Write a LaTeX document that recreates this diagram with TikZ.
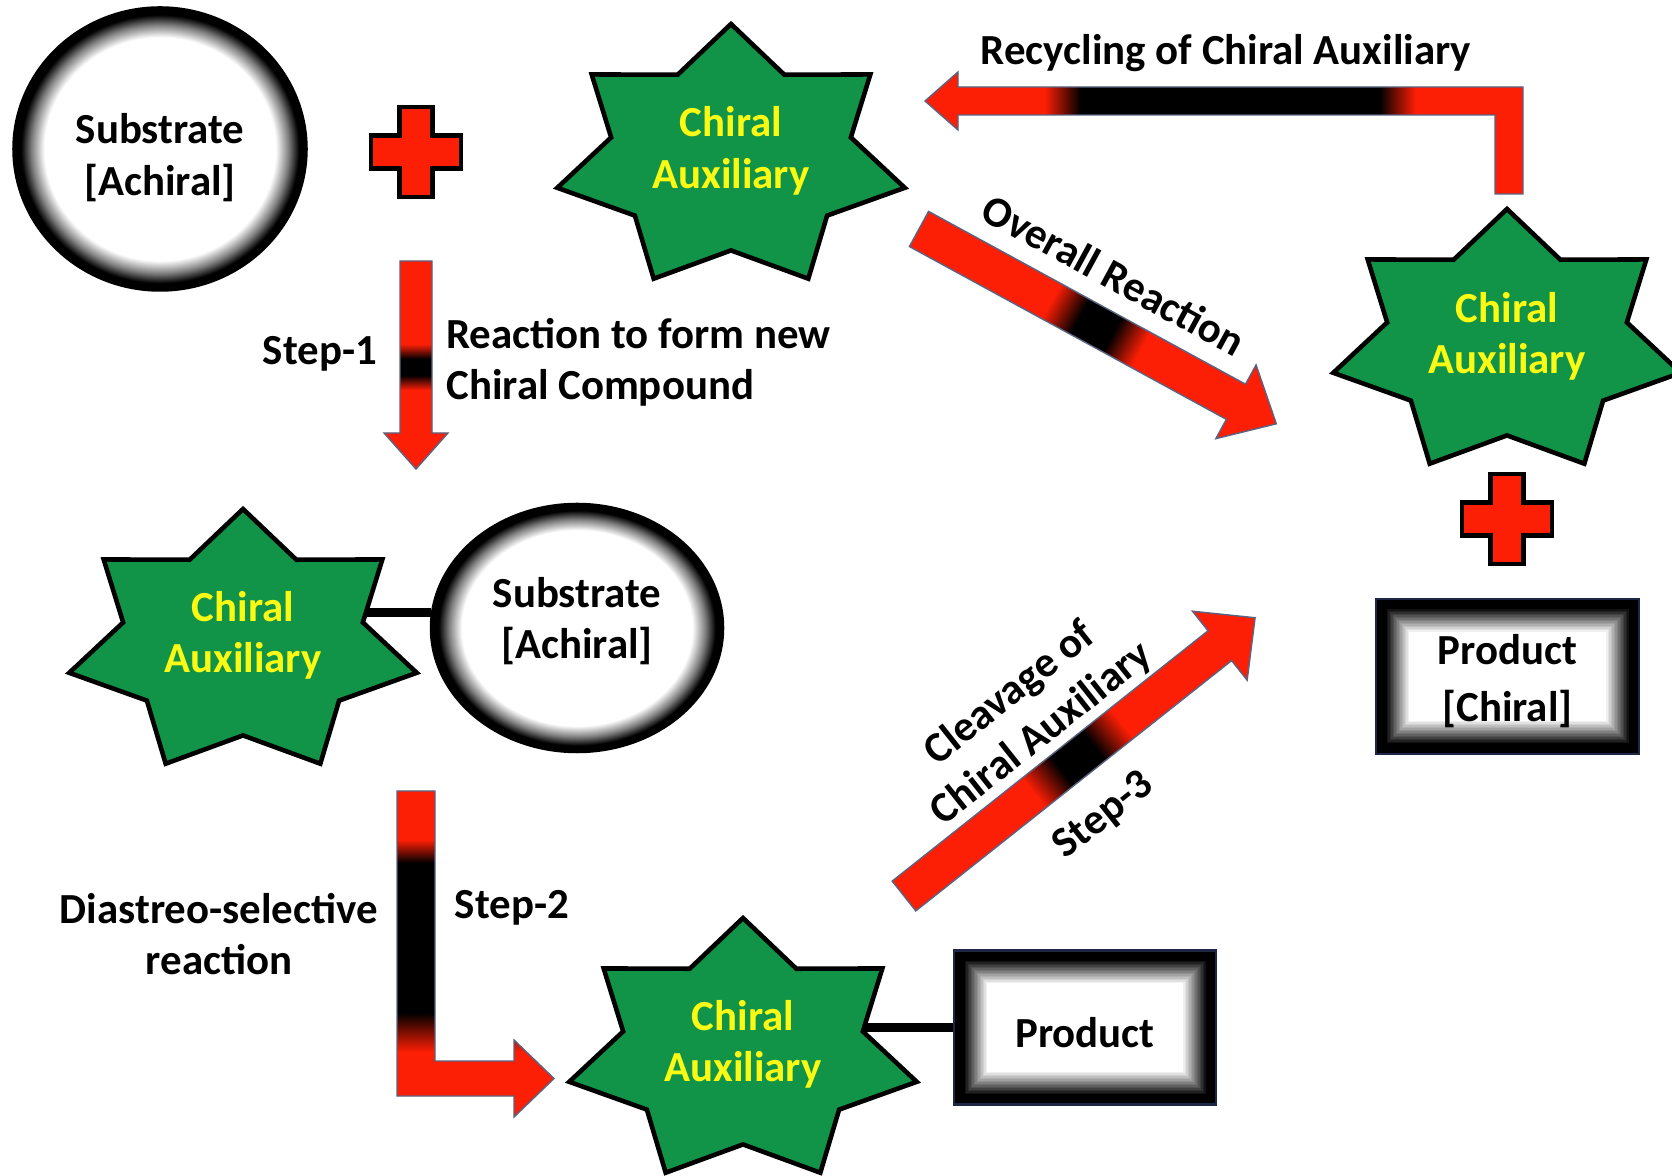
\documentclass[tikz,border=0pt]{standalone}
\usepackage{fontspec}
\setmainfont{Carlito}
\usetikzlibrary{shapes}

\definecolor{auxgreen}{RGB}{18,148,72}
\definecolor{auxyellow}{RGB}{250,250,20}
\definecolor{arrowred}{RGB}{252,30,5}
\definecolor{arrowedge}{RGB}{90,100,130}
\definecolor{boxedge}{RGB}{30,40,70}

\pgfdeclareradialshading{rimshade}{\pgfpoint{0bp}{0bp}}{color(0bp)=(white); color(19.8bp)=(white); color(22bp)=(black!50); color(23.8bp)=(black); color(50bp)=(black)}
\pgfdeclarehorizontalshading{midshade}{100bp}{color(0bp)=(arrowred); color(43.5bp)=(arrowred); color(47.5bp)=(black); color(52bp)=(black); color(56bp)=(arrowred); color(100bp)=(arrowred)}
\pgfdeclareverticalshading{stepshade}{100bp}{color(0bp)=(arrowred); color(44bp)=(arrowred); color(47.5bp)=(black); color(51.5bp)=(black); color(55bp)=(arrowred); color(100bp)=(arrowred)}
\pgfdeclareverticalshading{bendshade}{100bp}{color(0bp)=(arrowred); color(35bp)=(arrowred); color(41bp)=(black); color(64bp)=(black); color(67.5bp)=(arrowred); color(100bp)=(arrowred)}
\pgfdeclarehorizontalshading{recyshade}{100bp}{color(0bp)=(arrowred); color(35bp)=(arrowred); color(38bp)=(black); color(63bp)=(black); color(66bp)=(arrowred); color(100bp)=(arrowred)}

\begin{document}
\begin{tikzpicture}[font=\fontsize{12.2pt}{14.6pt}\selectfont\bfseries,
        auxstar/.style = {star, star points=7, star point ratio=1.45, minimum size=2.68cm, inner sep=0pt, fill=auxgreen, draw=black, line width=1.3pt, xscale=1.33, transform shape},
        auxtext/.style = {text=auxyellow, align=center},
        subcircle/.style = {ellipse, draw=black, line width=1pt, shade, shading=rimshade},
        prodbox/.style = {rectangle, draw=boxedge, line width=0.6pt, minimum width=2.62cm, minimum height=1.54cm,
            path picture={\foreach \k in {0,...,22} {
                \pgfmathtruncatemacro{\shadepct}{min(100,max(0,100-(\k-6)*6.25))}
                \fill[black!\shadepct!white] ([shift={(\k*0.015,\k*0.015)}]path picture bounding box.south west) rectangle ([shift={(-\k*0.015,-\k*0.015)}]path picture bounding box.north east);}}},
        link/.style = {line width=2.6pt},
        blockarrow/.style = {draw=arrowedge, line width=0.4pt},
        plussign/.style = {fill=arrowred, draw=black, line width=1.4pt}]
                \useasboundingbox (0, 0) rectangle (16.72, 11.75);
                \fill[white] (0, 0) rectangle (16.72, 11.75);

                \shadedraw[blockarrow, shading=recyshade] (9.25, 10.74) -- (9.58, 11.03) -- (9.58, 10.88) -- (15.23, 10.88) -- (15.23, 9.81) -- (14.95, 9.81) -- (14.95, 10.60) -- (9.58, 10.60) -- (9.58, 10.45) -- cycle;
                \shadedraw[blockarrow, shading=stepshade] (4.00, 9.14) -- (4.32, 9.14) -- (4.32, 7.42) -- (4.48, 7.42) -- (4.16, 7.06) -- (3.84, 7.42) -- (4.00, 7.42) -- cycle;
                \shadedraw[blockarrow, shading=bendshade] (3.97, 3.84) -- (4.35, 3.84) -- (4.35, 1.14) -- (5.14, 1.14) -- (5.14, 1.35) -- (5.54, 0.965) -- (5.14, 0.58) -- (5.14, 0.79) -- (3.97, 0.79) -- cycle;
                \begin{scope}[transform canvas={shift={(9.19, 9.46)}, rotate=-28.6}]
                \shadedraw[blockarrow, shading=midshade] (0, 0.20) -- (3.61, 0.20) -- (3.61, 0.42) -- (4.07, 0) -- (3.61, -0.42) -- (3.61, -0.20) -- (0, -0.20) -- cycle;
                \end{scope}
                \begin{scope}[transform canvas={shift={(9.04, 2.79)}, rotate=38.4}]
                \shadedraw[blockarrow, shading=midshade] (0, 0.19) -- (4.03, 0.19) -- (4.03, 0.44) -- (4.48, 0) -- (4.03, -0.44) -- (4.03, -0.19) -- (0, -0.19) -- cycle;
                \end{scope}

                \foreach \px/\py in {4.16/10.23, 15.07/6.56}
                    \draw[plussign] (\px, \py) ++(-0.165, -0.45) -- ++(0.33, 0) -- ++(0, 0.285) -- ++(0.285, 0) -- ++(0, 0.33) -- ++(-0.285, 0) -- ++(0, 0.285) -- ++(-0.33, 0) -- ++(0, -0.285) -- ++(-0.285, 0) -- ++(0, -0.33) -- ++(0.285, 0) -- cycle;

                \node[subcircle, minimum width=2.92cm, minimum height=2.82cm] at (1.60, 10.26) (c1) {};
                \node[align=center] at (1.60, 10.175) (c1txt) {Substrate\\{}[Achiral]};
                \node[auxstar] at (7.31, 10.17) (s1) {};
                \node[auxtext] at (7.31, 10.24) (t1) {Chiral\\Auxiliary};

                \coordinate (s2pos) at (2.43, 5.32);
                \node[subcircle, minimum width=2.91cm, minimum height=2.47cm] at (5.77, 5.47) (c2) {};
                \node[align=center] at (5.77, 5.54) (c2txt) {Substrate\\{}[Achiral]};
                \draw[link] (s2pos |- c2.174) -- (c2.174);
                \node[auxstar] at (s2pos) (s2) {};
                \node[auxtext] at (2.43, 5.40) (t2) {Chiral\\Auxiliary};

                \node[auxstar] at (15.07, 8.32) (s3) {};
                \node[auxtext] at (15.07, 8.39) (t3) {Chiral\\Auxiliary};
                \node[prodbox, minimum width=2.63cm, minimum height=1.55cm] at (15.075, 4.985) (pc) {};
                \node[align=center] at (15.075, 4.94) (pctxt) {Product\\[0.6mm]{}[Chiral]};

                \coordinate (s4pos) at (7.43, 1.23);
                \node[prodbox] at (10.85, 1.475) (prod) {};
                \node at (10.85, 1.425) (prodtxt) {Product};
                \draw[link] (s4pos |- prod.west) -- (prod.west);
                \node[auxstar] at (s4pos) (s4) {};
                \node[auxtext] at (7.43, 1.31) (t4) {Chiral\\Auxiliary};

                \node at (12.26, 11.22) (recylbl) {Recycling of Chiral Auxiliary};
                \node[rotate=-28.6] at (11.14, 9.00) (overlbl) {Overall Reaction};
                \node at (3.20, 8.21) (step1) {Step-1};
                \node[anchor=west, align=left] at (4.34, 8.13) (reactlbl) {Reaction to form new\\Chiral Compound};
                \node[align=center] at (2.19, 2.41) (diaslbl) {Diastreo-selective\\reaction};
                \node at (5.12, 2.67) (step2) {Step-2};
                \node[rotate=38.4, align=center] at (10.26, 4.61) (cleavlbl) {Cleavage of\\Chiral Auxiliary};
                \node[rotate=38.4] at (11.04, 3.59) (step3) {Step-3};
            \end{tikzpicture}
\end{document}
